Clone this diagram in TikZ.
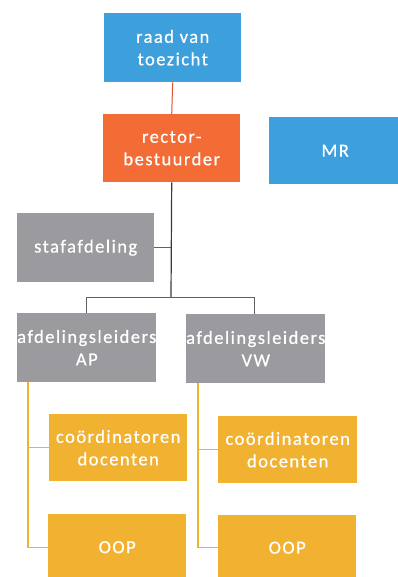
\documentclass[tikz,border=0pt]{standalone}
\usepackage{fontspec}
\setmainfont{Carlito}[LetterSpace=8,FakeBold=0.6]
\definecolor{bblue}{HTML}{3D9FDB}
\definecolor{borange}{HTML}{F36C36}
\definecolor{bgray}{HTML}{9B9B9F}
\definecolor{byellow}{HTML}{F1B232}
\definecolor{bred}{HTML}{E0502A}
\definecolor{bdark}{HTML}{3A3A3A}
\tikzset{
  box/.style={inner sep=0pt, text=white, align=center, font=\fontsize{18.5}{22.5}\selectfont, anchor=north west},
  bluebox/.style={box, fill=bblue},
  orangebox/.style={box, fill=borange},
  graybox/.style={box, fill=bgray},
  yellowbox/.style={box, fill=byellow},
  darkline/.style={draw=bdark, line width=1.2pt},
  thinline/.style={draw=bdark!80, line width=0.8pt},
  yline/.style={draw=byellow, line width=1.2pt},
}
\begin{document}
\begin{tikzpicture}[x=1pt,y=-1pt]
\useasboundingbox (0,0) rectangle (398,577);
\node[bluebox, minimum width=137pt, minimum height=69pt] (rvt) at (104,13) {raad van\\toezicht};
\node[orangebox, minimum width=137pt, minimum height=68pt] (rb) at (103,114) {rector-\\bestuurder};
\node[bluebox, minimum width=132pt, minimum height=67pt] (mr) at (269,117) {MR};
\node[graybox, minimum width=137pt, minimum height=69pt] (staf) at (17,213) {stafafdeling};
\node[graybox, minimum width=137pt, minimum height=69pt] (ap) at (17,313) {afdelingsleiders\\AP};
\node[graybox, minimum width=137pt, minimum height=69pt] (vw) at (186,314) {afdelingsleiders\\VW};
\node[yellowbox, minimum width=138pt, minimum height=67pt] (cl) at (49,414) {coördinatoren\\docenten};
\node[yellowbox, minimum width=138pt, minimum height=66pt] (ol) at (48,514) {OOP};
\node[yellowbox, minimum width=139pt, minimum height=67pt] (cr) at (218,416) {coördinatoren\\docenten};
\node[yellowbox, minimum width=138pt, minimum height=65pt] (or) at (218,515) {OOP};
\coordinate (j1) at (171,297);
\coordinate (jl) at (86,297);
\coordinate (jr) at (254,297);
\coordinate (sl) at (28,382);
\coordinate (sr) at (198,383);
% connectors
\draw[draw=bred, line width=1pt] (rvt.south) -- (rb.north);
\draw[darkline] (rb.south) -- (j1);
\draw[thinline] (jl) -- (jr);
\draw[thinline] (jl) -- (jl |- ap.north);
\draw[thinline] (jr) -- (jr |- vw.north);
\draw[thinline] (staf.east) -- (staf.east -| j1);
\draw[yline] (sl) -- (sl |- ol.west) -- (ol.west);
\draw[yline] (sl |- cl.west) -- (cl.west);
\draw[yline] (sr) -- (sr |- or.west) -- (or.west);
\draw[yline] (sr |- cr.west) -- (cr.west);
\end{tikzpicture}
\end{document}
